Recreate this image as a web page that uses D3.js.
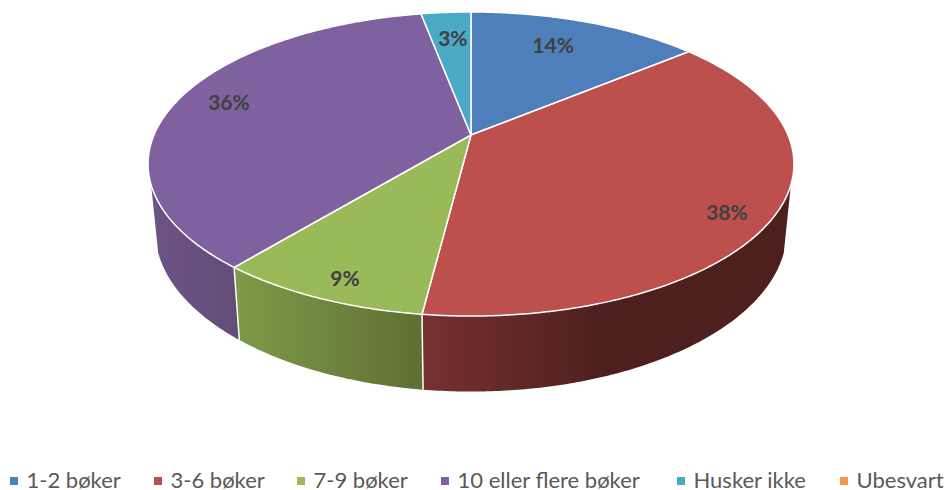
<!DOCTYPE html>
<html>
<head>
<meta charset="utf-8">
<script src="https://cdn.jsdelivr.net/npm/d3@7"></script>
<style>
html,body{margin:0;padding:0;background:#fff;overflow:hidden}
svg{display:block}
text{font-family:Lato,"Open Sans",sans-serif}
</style>
</head>
<body>
<div id="chart"></div>
<script>
const categories = ["1-2 bøker","3-6 bøker","7-9 bøker","10 eller flere bøker","Husker ikke","Ubesvart"];
const values = [14,38,9,36,3,0];
const colors = ["#4e7fbb","#bd4f4c","#9aba59","#7f61a0","#4aaac5","#f79646"];
const sideStops = [null,["#773030","#4d1f1f"],["#7f9a48","#5d7033"],["#6c5387","#624d76"],null,null];

const W = 947, H = 490;
const K = 0.1908;                   // perspective strength
const top_ = {cx:471, cy:135, rx:317, ry:146.5};
const bot_ = {cx:471, cy:200, rx:310, ry:155};
const silhouette = 0.32;            // depth value where the side turns out of view
const labelR = [0.754,0.878,0.893,0.829,0.751];
const labelNudge = [-2.3,4.6,-1.4,1.6,0.4];
const legendX = [10,154,297,441,677,840];

const svg = d3.select("#chart").append("svg").attr("width",W).attr("height",H);
const defs = svg.append("defs");

const pie = d3.pie().sort(null).value(d=>d).startAngle(0).endAngle(2*Math.PI);
const arcs = pie(values);

function project(p, a, r=1){
  const u = r*Math.sin(a), v = -r*Math.cos(a), d = 1 - K*v;
  const sx = d3.scaleLinear().domain([0,1]).range([p.cx,p.cx+p.rx]);
  const sy = d3.scaleLinear().domain([0,1]).range([p.cy,p.cy+p.ry]);
  return [sx(u/d), sy(v/d)];
}
const line = d3.line();
function rim(p,a0,a1){
  const n = Math.max(2,Math.ceil(Math.abs(a1-a0)/0.01));
  return d3.range(n+1).map(i=>project(p,a0+(a1-a0)*i/n));
}

const aMin = Math.acos(-silhouette), aMax = 2*Math.PI - aMin;

// sides
const sides = svg.append("g");
arcs.forEach((s,i)=>{
  const a0 = Math.max(s.startAngle,aMin), a1 = Math.min(s.endAngle,aMax);
  if (a1<=a0) return;
  const pts = rim(top_,a0,a1).concat(rim(bot_,a1,a0));
  const xs = d3.extent(pts,d=>d[0]);
  const id = "side"+i;
  const st = sideStops[i];
  const g = defs.append("linearGradient").attr("id",id).attr("gradientUnits","userSpaceOnUse")
    .attr("x1",xs[0]).attr("x2",i===1? xs[0]+(xs[1]-xs[0])*0.5 : xs[1]).attr("y1",0).attr("y2",0);
  g.append("stop").attr("offset",0).attr("stop-color",st[0]);
  g.append("stop").attr("offset",1).attr("stop-color",st[1]);
  sides.append("path").attr("d",line(pts)+"Z").attr("fill",`url(#${id})`);
});
// seams
arcs.forEach(s=>{
  if (s.startAngle>aMin && s.startAngle<aMax && s.endAngle>s.startAngle){
    const a = project(top_,s.startAngle), b = project(bot_,s.startAngle);
    sides.append("line").attr("x1",a[0]).attr("y1",a[1]).attr("x2",b[0]).attr("y2",b[1])
      .attr("stroke","#fff").attr("stroke-width",1.5);
  }
});

// top face
svg.append("g").selectAll("path").data(arcs.filter(s=>s.value>0)).join("path")
  .attr("d",s=>line([[top_.cx,top_.cy]].concat(rim(top_,s.startAngle,s.endAngle)))+"Z")
  .attr("fill",s=>colors[s.index])
  .attr("stroke","#fff").attr("stroke-width",1.5).attr("stroke-linejoin","round");

// labels
svg.append("g").selectAll("text").data(arcs.filter(s=>s.value>0)).join("text")
  .attr("transform",s=>{
    const m = (s.startAngle+s.endAngle)/2 + labelNudge[s.index]*Math.PI/180;
    const p = project(top_,m,labelR[s.index]);
    return `translate(${p[0]},${p[1]})`;
  })
  .attr("text-anchor","middle").attr("dy","0.35em")
  .attr("font-size",21).attr("font-weight",700).attr("fill","#404040")
  .text(s=>d3.format(".0f")(s.value)+"%");

// legend
const lg = svg.append("g").selectAll("g").data(categories).join("g")
  .attr("transform",(d,i)=>`translate(${legendX[i]},0)`);
lg.append("rect").attr("x",0).attr("y",477).attr("width",8).attr("height",8)
  .attr("fill",(d,i)=>colors[i]);
lg.append("text").attr("x",16.5).attr("y",487.5).attr("font-size",22).attr("fill","#595959").text(d=>d);
</script>
</body>
</html>
